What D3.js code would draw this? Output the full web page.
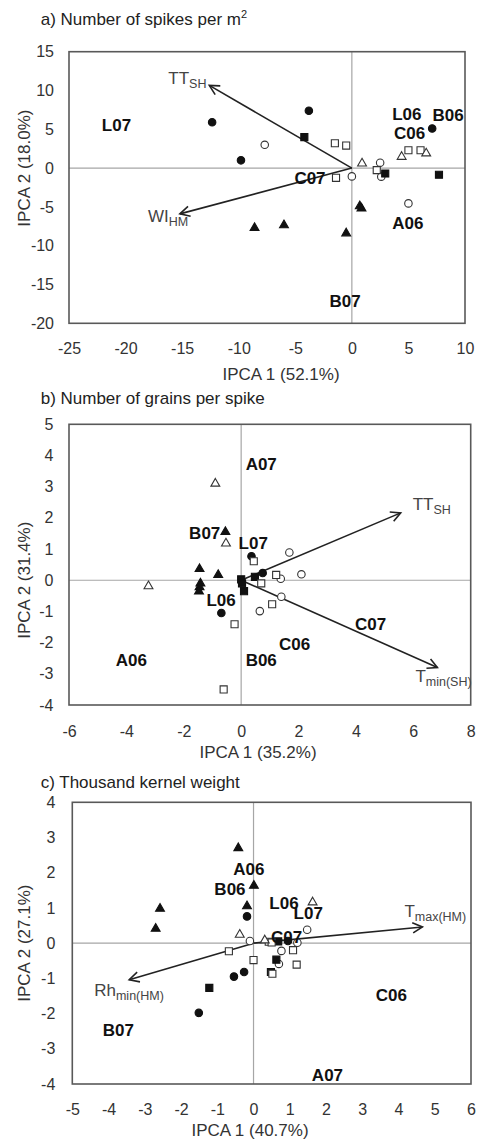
<!DOCTYPE html>
<html><head><meta charset="utf-8">
<script src="https://cdn.jsdelivr.net/npm/d3@7"></script>
<style>
body{margin:0;background:#fff}
svg{display:block}
text{font-family:"Liberation Sans",Arial,sans-serif}
</style></head>
<body><svg id="chart" width="477" height="1139"></svg>
<script>
// ---------------- Panel a: Number of spikes per m2 ----------------
const aXTicks = [-25, -20, -15, -10, -5, 0, 5, 10];
const aYTicks = [-20, -15, -10, -5, 0, 5, 10, 15];
const aFilledCircle = [[-12.35, 5.9], [-3.8, 7.4], [-9.8, 1.0], [7.1, 5.1]];
const aOpenCircle = [[-7.7, 3.0], [2.5, 0.7], [2.6, -1.1], [0.0, -1.07], [5.0, -4.55]];
const aFilledSquare = [[-4.2, 4.0], [2.95, -0.7], [7.7, -0.86]];
const aOpenSquare = [[-1.5, 3.2], [-0.5, 2.9], [2.2, -0.26], [-1.4, -1.25], [5.0, 2.3], [6.07, 2.3]];
const aFilledTriangle = [[0.7, -4.9], [0.85, -5.2], [-8.6, -7.7], [-6.0, -7.35], [-0.5, -8.4]];
const aOpenTriangle = [[0.9, 0.6], [4.4, 1.46], [6.57, 1.9]];
const aEnvNames = ["L07", "L06", "B06", "C06", "C07", "A06", "B07"];
const aEnvX = [-20.8, 4.86, 8.5, 5.1, -3.7, 4.95, -0.6];
const aEnvY = [5.6, 7.05, 6.9, 4.6, -1.2, -7.05, -17.1];
const aVarMain = ["TT", "WI"];
const aVarSub = ["SH", "HM"];
const aVarX = [-12.6, -15.2];
const aVarY = [10.66, -5.9];

// ---------------- Panel b: Number of grains per spike ----------------
const bXTicks = [-6, -4, -2, 0, 2, 4, 6, 8];
const bYTicks = [-4, -3, -2, -1, 0, 1, 2, 3, 4, 5];
const bFilledCircle = [[0.36, 0.77], [0.75, 0.23], [-0.69, -1.05]];
const bOpenCircle = [[1.68, 0.89], [2.1, 0.19], [1.38, 0.05], [1.4, -0.53], [0.65, -0.99]];
const bFilledSquare = [[0.0, 0.03], [0.03, -0.1], [0.1, -0.35], [0.48, 0.11]];
const bOpenSquare = [[0.44, 0.61], [1.22, 0.17], [0.7, -0.1], [1.08, -0.77], [-0.23, -1.41], [-0.61, -3.5]];
const bFilledTriangle = [[-0.55, 1.55], [-1.45, 0.36], [-0.8, 0.17], [-1.42, -0.1], [-1.45, -0.22], [-1.47, -0.36]];
const bOpenTriangle = [[-0.9, 3.1], [-0.53, 1.18], [-3.23, -0.19]];
const bEnvNames = ["A07", "B07", "L07", "L06", "C07", "C06", "B06", "A06"];
const bEnvX = [0.7, -1.27, 0.42, -0.7, 4.51, 1.86, 0.7, -3.83];
const bEnvY = [3.74, 1.53, 1.2, -0.62, -1.39, -2.03, -2.56, -2.56];
const bVarMain = ["TT", "T"];
const bVarSub = ["SH", "min(SH)"];
const bVarX = [5.56, 6.84];
const bVarY = [2.16, -2.8];

// ---------------- Panel c: Thousand kernel weight ----------------
const cXTicks = [-5, -4, -3, -2, -1, 0, 1, 2, 3, 4, 5, 6];
const cYTicks = [-4, -3, -2, -1, 0, 1, 2, 3, 4];
const cFilledCircle = [[-0.18, 0.76], [-0.26, -0.82], [-0.54, -0.95], [-1.51, -1.98], [0.95, 0.06]];
const cOpenCircle = [[1.48, 0.38], [-0.1, 0.06], [1.21, 0.01], [0.77, -0.22], [0.7, -0.59]];
const cFilledSquare = [[0.63, -0.47], [0.48, -0.82], [-1.22, -1.27], [0.68, 0.05]];
const cOpenSquare = [[0.42, 0.04], [0.5, 0.02], [-0.68, -0.23], [1.09, -0.2], [0.0, -0.48], [1.19, -0.61], [0.52, -0.87]];
const cFilledTriangle = [[-0.42, 2.7], [0.01, 1.63], [-2.58, 0.98], [-2.7, 0.41], [-0.18, 1.05]];
const cOpenTriangle = [[1.63, 1.16], [-0.38, 0.24], [0.31, 0.08]];
const cEnvNames = ["A06", "B06", "L06", "L07", "C07", "C06", "B07", "A07"];
const cEnvX = [-0.13, -0.65, 0.84, 1.51, 0.91, 3.8, -3.73, 2.04];
const cEnvY = [2.1, 1.55, 1.15, 0.85, 0.17, -1.46, -2.46, -3.73];
const cVarMain = ["T", "Rh"];
const cVarSub = ["max(HM)", "min(HM)"];
const cVarX = [4.66, -3.43];
const cVarY = [0.46, -1.04];

const svg = d3.select("#chart");

const panels = [
  {
    title: "a) Number of spikes per m", sup: "2", titleY: 25,
    left: 69, right: 465, top: 51.7, bottom: 323.3,
    xTicks: aXTicks, yTicks: aYTicks,
    xTitle: "IPCA 1 (52.1%)", yTitle: "IPCA 2 (18.0%)",
    xTitleX: 281, xTitleY: 379.5, xPad: 19, yPad: 15,
    series: [aFilledCircle, aOpenCircle, aFilledSquare, aOpenSquare, aFilledTriangle, aOpenTriangle],
    env: [aEnvNames, aEnvX, aEnvY],
    vars: [aVarMain, aVarSub, aVarX, aVarY],
    varLabelOffset: [[-41, -1], [-32, 8]]
  },
  {
    title: "b) Number of grains per spike", sup: "", titleY: 404,
    left: 69, right: 470.7, top: 424.3, bottom: 705,
    xTicks: bXTicks, yTicks: bYTicks,
    xTitle: "IPCA 1 (35.2%)", yTitle: "IPCA 2 (31.4%)",
    xTitleX: 258, xTitleY: 758, xPad: 21, yPad: 15.5,
    series: [bFilledCircle, bOpenCircle, bFilledSquare, bOpenSquare, bFilledTriangle, bOpenTriangle],
    env: [bEnvNames, bEnvX, bEnvY],
    vars: [bVarMain, bVarSub, bVarX, bVarY],
    varLabelOffset: [[12, -3], [-22, 14]]
  },
  {
    title: "c) Thousand kernel weight", sup: "", titleY: 788,
    left: 72.3, right: 471, top: 802.3, bottom: 1084,
    xTicks: cXTicks, yTicks: cYTicks,
    xTitle: "IPCA 1 (40.7%)", yTitle: "IPCA 2 (27.1%)",
    xTitleX: 250, xTitleY: 1136, xPad: 20, yPad: 17,
    series: [cFilledCircle, cOpenCircle, cFilledSquare, cOpenSquare, cFilledTriangle, cOpenTriangle],
    env: [cEnvNames, cEnvX, cEnvY],
    vars: [cVarMain, cVarSub, cVarX, cVarY],
    varLabelOffset: [[-18, -10], [-35, 16]]
  }
];

const seriesStyle = [
  {type: d3.symbolCircle, size: 44, fill: "#111", stroke: "#111"},
  {type: d3.symbolCircle, size: 44, fill: "#fff", stroke: "#333"},
  {type: d3.symbolSquare, size: 50, fill: "#111", stroke: "#111"},
  {type: d3.symbolSquare, size: 50, fill: "#fff", stroke: "#333"},
  {type: d3.symbolTriangle, size: 34, fill: "#111", stroke: "#111"},
  {type: d3.symbolTriangle, size: 34, fill: "#fff", stroke: "#333"}
];

function drawPanel(p) {
  const x = d3.scaleLinear().domain(d3.extent(p.xTicks)).range([p.left, p.right]);
  const y = d3.scaleLinear().domain(d3.extent(p.yTicks)).range([p.bottom, p.top]);
  const g = svg.append("g");

  // title
  const t = g.append("text").attr("x", 40.7).attr("y", p.titleY)
    .attr("font-size", 17).attr("fill", "#222").text(p.title);
  if (p.sup) t.append("tspan").attr("font-size", 11).attr("dy", -7).text(p.sup);

  // zero lines
  g.append("line").attr("x1", x(0)).attr("x2", x(0)).attr("y1", p.top).attr("y2", p.bottom)
    .attr("stroke", "#a6a6a6").attr("stroke-width", 1.2);
  g.append("line").attr("x1", p.left).attr("x2", p.right).attr("y1", y(0)).attr("y2", y(0))
    .attr("stroke", "#a6a6a6").attr("stroke-width", 1.2);

  // axes
  const xa = d3.axisBottom(x).tickValues(p.xTicks).tickSize(0).tickPadding(p.xPad).tickFormat(d => String(d));
  const ya = d3.axisLeft(y).tickValues(p.yTicks).tickSize(0).tickPadding(p.yPad).tickFormat(d => String(d));
  const gx = g.append("g").attr("transform", `translate(0,${p.bottom})`).call(xa);
  const gy = g.append("g").attr("transform", `translate(${p.left},0)`).call(ya);
  [gx, gy].forEach(a => {
    a.select(".domain").remove();
    a.selectAll("text").attr("font-size", 16).attr("fill", "#333")
      .attr("font-family", '"Liberation Sans",Arial,sans-serif');
  });

  // frame
  g.append("rect").attr("x", p.left).attr("y", p.top)
    .attr("width", p.right - p.left).attr("height", p.bottom - p.top)
    .attr("fill", "none").attr("stroke", "#595959").attr("stroke-width", 1.6);

  // axis titles
  g.append("text").attr("x", p.xTitleX).attr("y", p.xTitleY).attr("text-anchor", "middle")
    .attr("font-size", 17).attr("fill", "#333").text(p.xTitle);
  g.append("text").attr("transform", `translate(30,${y(0)}) rotate(-90)`).attr("text-anchor", "middle")
    .attr("font-size", 17).attr("fill", "#333").text(p.yTitle);

  // arrows (variables)
  const [vm, vs, vx, vy] = p.vars;
  vm.forEach((name, i) => {
    const x0 = x(0), y0 = y(0), x1 = x(vx[i]), y1 = y(vy[i]);
    g.append("line").attr("x1", x0).attr("y1", y0).attr("x2", x1).attr("y2", y1)
      .attr("stroke", "#222").attr("stroke-width", 1.6);
    const ang = Math.atan2(y1 - y0, x1 - x0);
    const L = 11, a = 0.48;
    const h1 = [x1 - L * Math.cos(ang - a), y1 - L * Math.sin(ang - a)];
    const h2 = [x1 - L * Math.cos(ang + a), y1 - L * Math.sin(ang + a)];
    g.append("path").attr("d", `M${h1[0]},${h1[1]}L${x1},${y1}L${h2[0]},${h2[1]}`)
      .attr("fill", "none").attr("stroke", "#222").attr("stroke-width", 1.6);
    const off = p.varLabelOffset[i];
    const lt = g.append("text").attr("x", x1 + off[0]).attr("y", y1 + off[1])
      .attr("font-size", 17).attr("fill", "#444");
    lt.append("tspan").text(name);
    lt.append("tspan").attr("font-size", 12.5).attr("dy", 4).text(vs[i]);
  });

  // points
  p.series.forEach((pts, si) => {
    const st = seriesStyle[si];
    const sym = d3.symbol().type(st.type).size(st.size);
    g.append("g").selectAll("path").data(pts).join("path")
      .attr("d", sym)
      .attr("transform", d => `translate(${x(d[0])},${y(d[1])})`)
      .attr("fill", st.fill).attr("stroke", st.stroke).attr("stroke-width", 1.1);
  });

  // environment labels
  const [en, ex, ey] = p.env;
  g.append("g").selectAll("text").data(en).join("text")
    .attr("x", (d, i) => x(ex[i])).attr("y", (d, i) => y(ey[i]))
    .attr("dy", "0.36em").attr("text-anchor", "middle")
    .attr("font-size", 17).attr("font-weight", "bold").attr("fill", "#111")
    .text(d => d);
}

panels.forEach(drawPanel);
</script></body></html>
